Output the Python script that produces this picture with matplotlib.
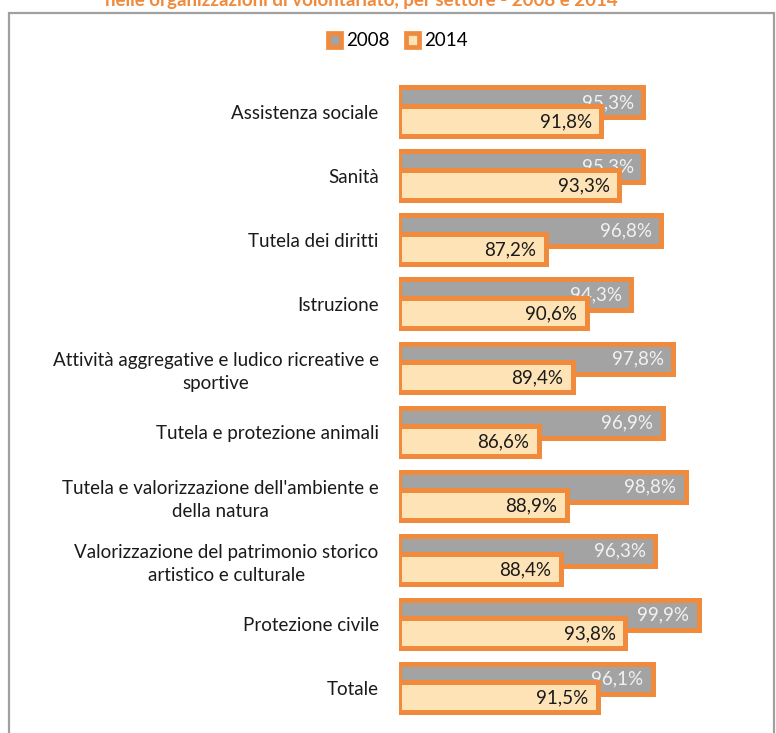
import matplotlib
matplotlib.use("Agg")
import matplotlib.pyplot as plt
from matplotlib.patches import Patch, Rectangle

plt.rcParams["font.family"] = ["Lato", "DejaVu Sans"]

# ---- data ----
categories = [
    "Assistenza sociale",
    "Sanità",
    "Tutela dei diritti",
    "Istruzione",
    "Attività aggregative e ludico ricreative e\nsportive",
    "Tutela e protezione animali",
    "Tutela e valorizzazione dell'ambiente e\ndella natura",
    "Valorizzazione del patrimonio storico\nartistico e culturale",
    "Protezione civile",
    "Totale",
]
val_2008 = [95.3, 95.3, 96.8, 94.3, 97.8, 96.9, 98.8, 96.3, 99.9, 96.1]
val_2014 = [91.8, 93.3, 87.2, 90.6, 89.4, 86.6, 88.9, 88.4, 93.8, 91.5]
series = ["2008", "2014"]
title = "nelle organizzazioni di volontariato, per settore - 2008 e 2014"

ORANGE = "#F08A3C"
GREY = "#A3A3A3"
CREAM = "#FDE3B6"
FS = 13.5

fig = plt.figure(figsize=(7.76, 7.33), dpi=100)
ax = fig.add_axes([0.5148, 0.009, 0.4646, 0.891])

y = list(range(len(categories)))
h = 0.47
off = 0.145
lw = 3.6

ax.barh([i - off for i in y], [v - 75 for v in val_2008], left=75, height=h,
        color=GREY, edgecolor=ORANGE, linewidth=lw, zorder=2)
ax.barh([i + off for i in y], [v - 75 for v in val_2014], left=75, height=h,
        color=CREAM, edgecolor=ORANGE, linewidth=lw, zorder=4)

for i in y:
    ax.text(val_2008[i] - 0.8, i - off, f"{val_2008[i]:.1f}%".replace(".", ","),
            ha="right", va="center", color="#F2F2F2", fontsize=FS, zorder=3)
    ax.text(val_2014[i] - 0.8, i + off + 0.01, f"{val_2014[i]:.1f}%".replace(".", ","),
            ha="right", va="center", color="#1A1A1A", fontsize=FS, zorder=5)

ax.set_xlim(75, 105)
ax.set_ylim(9.6, -0.6)
ax.set_yticks(y)
ax.set_yticklabels(categories, fontsize=FS, color="#1A1A1A",
                   multialignment="center", linespacing=1.4)
ax.tick_params(axis="y", length=0, pad=15)
ax.set_xticks([])
for s in ax.spines.values():
    s.set_visible(False)

handles = [Patch(facecolor=GREY, edgecolor=ORANGE, linewidth=3.4),
           Patch(facecolor=CREAM, edgecolor=ORANGE, linewidth=3.4)]
fig.legend(handles, series, loc="center", bbox_to_anchor=(398 / 776, 1 - 41 / 733),
           ncol=2, frameon=False, fontsize=FS, handlelength=0.7, handleheight=0.7,
           handletextpad=0.25, columnspacing=0.9)

# outer frame (partly cropped)
fig.patches.append(Rectangle((9 / 776, -0.1), (774 - 9) / 776, 1.1 - 13 / 733,
                             transform=fig.transFigure, fill=False,
                             edgecolor="#A0A0A0", linewidth=1.6))

fig.text(361 / 776, 1 - 6 / 733, title, ha="center", va="baseline",
         color=ORANGE, fontsize=FS, fontweight="bold")

fig.savefig("out.png", dpi=100)
